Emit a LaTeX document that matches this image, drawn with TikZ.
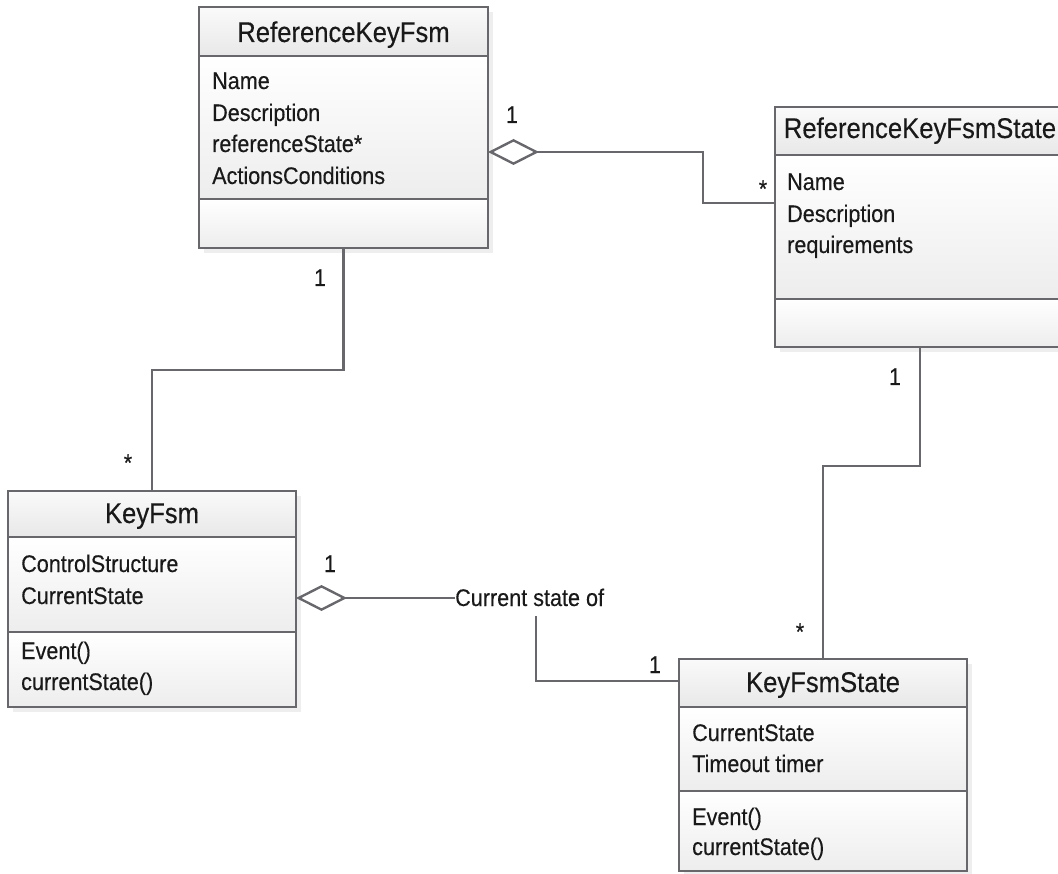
\documentclass[tikz,border=0pt]{standalone}
\usepackage{fontspec}
\setmainfont{Liberation Sans}[FakeStretch=0.9, FakeBold=0.3]
\usetikzlibrary{calc,arrows.meta}

\definecolor{edge}{RGB}{104,104,108}
\definecolor{ink}{RGB}{25,25,25}
\definecolor{hdtop}{RGB}{250,250,250}
\definecolor{hdbot}{RGB}{232,232,232}
\definecolor{sectop}{RGB}{255,255,255}
\definecolor{secbot}{RGB}{237,237,237}
\definecolor{shadowc}{RGB}{238,238,238}

\tikzset{
  frame/.style={rectangle, draw=none, inner sep=0pt, outer sep=0pt},
  rule/.style={draw=edge, line width=2.4pt},
  conn/.style={draw=edge, line width=2.4pt},
  agg/.style={{Diamond[open, length=51pt, width=26pt]}-},
  title/.style={anchor=base, font=\fontsize{28.5}{34}\selectfont, text=ink, inner sep=0pt},
  member/.style={anchor=base west, font=\fontsize{24}{29}\selectfont, text=ink, inner sep=0pt},
  mult/.style={anchor=base, font=\fontsize{24}{29}\selectfont, text=ink, inner sep=0pt},
}

% class frame: #1 node, #2 depth of the name rule, #3 depth of the attribute rule
\newcommand{\classframe}[3]{%
  \fill[shadowc] ($(#1.north west)+(5,5)$) rectangle ($(#1.south east)+(5,5)$);
  \shade[top color=hdtop, bottom color=hdbot] (#1.north west) rectangle ($(#1.north east)+(0,#2)$);
  \shade[top color=sectop, bottom color=secbot] ($(#1.north west)+(0,#2)$) rectangle ($(#1.north east)+(0,#3)$);
  \shade[top color=sectop, bottom color=secbot] ($(#1.north west)+(0,#3)$) rectangle (#1.south east);
  \draw[rule] ($(#1.north west)+(0,#2)$) -- ($(#1.north east)+(0,#2)$);
  \draw[rule] ($(#1.north west)+(0,#3)$) -- ($(#1.north east)+(0,#3)$);
  \draw[rule] (#1.north west) rectangle (#1.south east);
}

\begin{document}
\begin{tikzpicture}[x=1pt, y=-1pt]
  \useasboundingbox (0,0) rectangle (1058,874);
  \clip (0,0) rectangle (1058,874);

  % class outlines
  \node[frame, minimum width=289pt, minimum height=241pt] (rkf)  at (343.5,127.5) {};
  \node[frame, minimum width=290pt, minimum height=240pt] (rkfs) at (920,227) {};
  \node[frame, minimum width=288pt, minimum height=216pt] (kf)   at (152,599) {};
  \node[frame, minimum width=288pt, minimum height=212pt] (kfs)  at (823,765) {};

  \classframe{rkf}{49}{192}
  \classframe{rkfs}{48}{192}
  \classframe{kf}{46}{141}
  \classframe{kfs}{48}{132}

  % ReferenceKeyFsm
  \node[title] (rkfname) at ($(rkf.north)+(0,35)$) {ReferenceKeyFsm};
  \node[member] (rkfa1) at (212,89)  {Name};
  \node[member] (rkfa2) at (212,121) {Description};
  \node[member] (rkfa3) at (212,152) {referenceState*};
  \node[member] (rkfa4) at (212,184) {ActionsConditions};

  % ReferenceKeyFsmState
  \node[title] (rkfsname) at ($(rkfs.north)+(0,31)$) {ReferenceKeyFsmState};
  \node[member] (rkfsa1) at (787,190) {Name};
  \node[member] (rkfsa2) at (787,222) {Description};
  \node[member] (rkfsa3) at (787,253) {requirements};

  % KeyFsm
  \node[title] (kfname) at ($(kf.north)+(0,32)$) {KeyFsm};
  \node[member] (kfa1) at (21,572) {ControlStructure};
  \node[member] (kfa2) at (21,604) {CurrentState};
  \node[member] (kfm1) at (21,659) {Event()};
  \node[member] (kfm2) at (21,690) {currentState()};

  % KeyFsmState
  \node[title] (kfsname) at ($(kfs.north)+(0,33)$) {KeyFsmState};
  \node[member] (kfsa1) at (692,741) {CurrentState};
  \node[member] (kfsa2) at (692,772) {Timeout timer};
  \node[member] (kfsm1) at (692,825) {Event()};
  \node[member] (kfsm2) at (692,855) {currentState()};

  % association label
  \node[member] (lbl) at (455,606) {Current state of};

  % connectors
  \coordinate (rkfdia) at ($(rkf.north east)+(0,145)$);
  \coordinate (rkfsin) at ($(rkfs.north west)+(0,96)$);
  \coordinate (kfdia)  at ($(kf.north east)+(0,107)$);
  \coordinate (kfsin)  at ($(kfs.north west)+(0,22)$);
  \coordinate (lblout) at ($(lbl.south west)+(81,10)$);

  \draw[conn, agg] (rkfdia) -- ++(215,0) |- (rkfsin);
  \draw[conn] (rkf.south) -- ++(0,122) -| (kf.north);
  \draw[conn] (rkfs.south) -- ++(0,119) -| (kfs.north);
  \draw[conn, agg] (kfdia) -- (kfdia -| lbl.west);
  \draw[conn] (lblout) |- (kfsin);

  % multiplicities
  \node[mult] (m1) at (512,123) {1};
  \node[mult] (m2) at (763,197) {*};
  \node[mult] (m3) at (320,286) {1};
  \node[mult] (m4) at (128,471) {*};
  \node[mult] (m5) at (895,385) {1};
  \node[mult] (m6) at (800,640) {*};
  \node[mult] (m7) at (330,572) {1};
  \node[mult] (m8) at (655,673) {1};
\end{tikzpicture}
\end{document}
